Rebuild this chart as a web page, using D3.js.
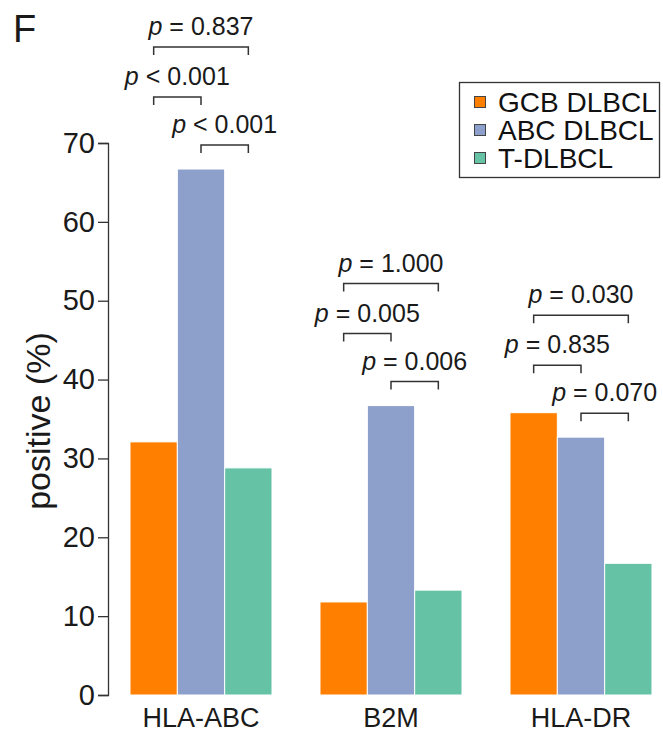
<!DOCTYPE html>
<html>
<head>
<meta charset="utf-8">
<script src="https://cdn.jsdelivr.net/npm/d3@7"></script>
<style>
  html, body { margin: 0; padding: 0; background: #fff; }
  svg { display: block; font-family: "Liberation Sans", Arial, Helvetica, sans-serif; }
</style>
</head>
<body>
<svg id="chart" width="663" height="742"></svg>
<script>
// ---- data ----
const categories = ["HLA-ABC", "B2M", "HLA-DR"];
const seriesNames = ["GCB DLBCL", "ABC DLBCL", "T-DLBCL"];
const gcbValues = [32.1, 11.8, 35.8];
const abcValues = [66.7, 36.7, 32.7];
const tdlbclValues = [28.8, 13.3, 16.7];
const yTicks = [0, 10, 20, 30, 40, 50, 60, 70];
// p-value comparisons per category: [series a, series b]
const comparisons = [[0, 2], [0, 1], [1, 2]];
const pLabels = [
  ["= 0.837", "< 0.001", "< 0.001"],
  ["= 1.000", "= 0.005", "= 0.006"],
  ["= 0.030", "= 0.835", "= 0.070"]
];
const colors = ["#ff7f00", "#8da0cb", "#66c2a5"];

const seriesValues = [gcbValues, abcValues, tdlbclValues];

// ---- layout ----
const svg = d3.select("#chart");
const axisX = 108, yTop = 143, yBottom = 695;

const y = d3.scaleLinear().domain([0, 70]).range([yBottom, yTop]);
const x0 = d3.scaleBand().domain(categories).range([axisX, 674])
  .paddingInner(0.2526).paddingOuter(0.1158);
const x1 = d3.scaleBand().domain(d3.range(seriesNames.length)).range([0, x0.bandwidth()]).padding(0);

// bars
const groups = svg.append("g").selectAll("g").data(categories).join("g")
  .attr("transform", d => `translate(${x0(d)},0)`);
groups.selectAll("rect")
  .data((d, i) => seriesValues.map((vals, s) => ({ s, v: vals[i] })))
  .join("rect")
  .attr("x", d => x1(d.s))
  .attr("width", x1.bandwidth())
  .attr("y", d => y(d.v))
  .attr("height", d => y(0) - y(d.v))
  .attr("fill", d => colors[d.s])
  .attr("stroke", "#fff")
  .attr("stroke-width", 1);

// y axis
const yAxis = svg.append("g")
  .attr("transform", `translate(${axisX},0)`)
  .call(d3.axisLeft(y).tickValues(yTicks).tickSize(10).tickSizeOuter(10).tickPadding(3));
yAxis.select(".domain").attr("stroke", "#333").attr("stroke-width", 1.3);
yAxis.selectAll(".tick line").attr("stroke", "#333").attr("stroke-width", 1.3);
yAxis.selectAll(".tick text").attr("font-size", 29).attr("fill", "#1a1a1a")
  .attr("font-family", "'Liberation Sans', Arial, sans-serif");

// x category labels
svg.append("g").selectAll("text").data(categories).join("text")
  .attr("x", d => x0(d) + x0.bandwidth() / 2)
  .attr("y", 727)
  .attr("text-anchor", "middle")
  .attr("font-size", 27)
  .attr("fill", "#1a1a1a")
  .text(d => d);

// y label
svg.append("text")
  .attr("transform", "translate(50,421) rotate(-90)")
  .attr("text-anchor", "middle")
  .attr("font-size", 34)
  .attr("fill", "#1a1a1a")
  .text("positive (%)");

// panel letter
svg.append("text")
  .attr("x", 13).attr("y", 42)
  .attr("font-size", 38)
  .attr("fill", "#1a1a1a")
  .text("F");

// significance brackets
const cx = (ci, s) => x0(categories[ci]) + x1(s) + x1.bandwidth() / 2;
categories.forEach((cat, ci) => {
  const base = y(Math.max(abcValues[ci], tdlbclValues[ci])) - 24;
  const levels = [base - 98, base - 48, base];
  comparisons.forEach((pair, k) => {
    const xa = cx(ci, pair[0]), xb = cx(ci, pair[1]);
    const ly = levels[k];
    svg.append("path")
      .attr("d", `M${xa},${ly + 8}V${ly}H${xb}V${ly + 8}`)
      .attr("fill", "none")
      .attr("stroke", "#333")
      .attr("stroke-width", 1.5);
    const t = svg.append("text")
      .attr("x", (xa + xb) / 2)
      .attr("y", ly - 12)
      .attr("text-anchor", "middle")
      .attr("font-size", 25)
      .attr("fill", "#1a1a1a");
    t.append("tspan").attr("font-style", "italic").text("p");
    t.append("tspan").text(" " + pLabels[ci][k]);
  });
});

// legend
const legend = svg.append("g");
legend.append("rect")
  .attr("x", 459.5).attr("y", 82.5).attr("width", 200).attr("height", 95)
  .attr("fill", "#fff").attr("stroke", "#333").attr("stroke-width", 1.3);
const rows = legend.selectAll("g.row").data(seriesNames).join("g")
  .attr("class", "row")
  .attr("transform", (d, i) => `translate(0,${102 + i * 28})`);
rows.append("rect")
  .attr("x", 474.5).attr("y", -5.5).attr("width", 11).attr("height", 11)
  .attr("fill", (d, i) => colors[i]).attr("stroke", "#444").attr("stroke-width", 1);
rows.append("text")
  .attr("x", 498).attr("y", 0).attr("dy", "0.35em")
  .attr("font-size", 28).attr("fill", "#111")
  .text(d => d);
</script>
</body>
</html>
